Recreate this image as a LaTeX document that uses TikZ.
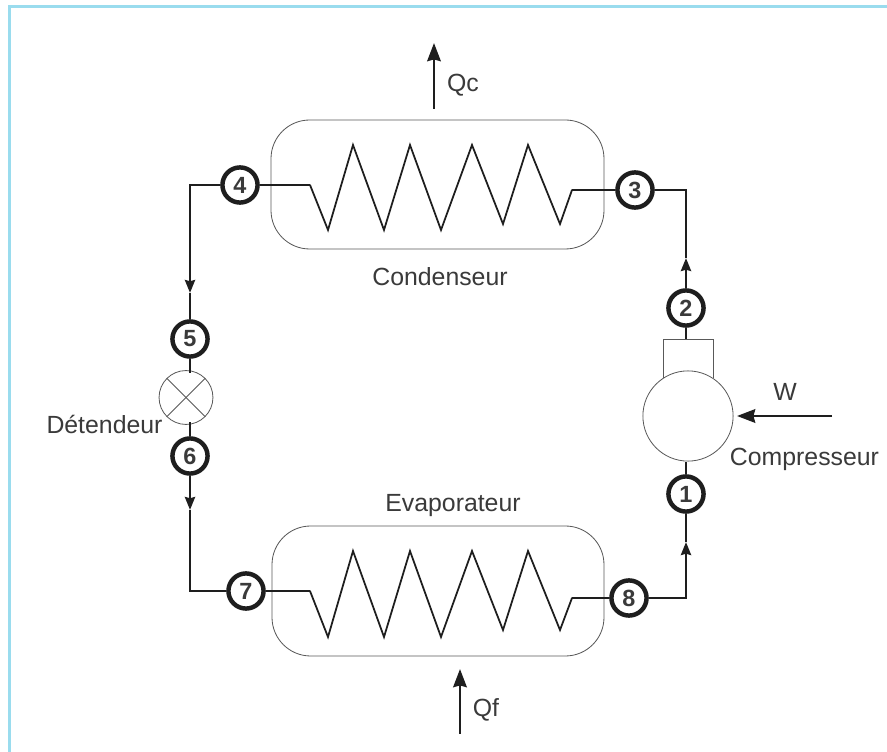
\documentclass[tikz,border=0pt]{standalone}
\usepackage{tkz-euclide}
\usepackage{fontspec}
\setmainfont{Liberation Sans}
\usetikzlibrary{arrows.meta}
\definecolor{framecol}{HTML}{9ADCEE}
\definecolor{textcol}{HTML}{3A3A3A}
\definecolor{pipecol}{HTML}{1E1E1E}
\tikzset{
    pipe/.style = {line width=2.4pt, draw=pipecol},
    coil/.style = {line width=1.5pt, draw=pipecol, line join=miter},
    vessel/.style = {line width=0.7pt, draw=black!65, rounded corners=33pt},
    thinpart/.style = {line width=0.7pt, draw=black!65},
    heat/.style = {line width=2.4pt, draw=pipecol, -{Stealth[length=15.5pt,width=11.5pt,inset=1.5pt]}},
    flow/.style = {pipe, -{Stealth[length=11pt,width=8.5pt,inset=1pt]}},
    state/.style = {circle, draw=pipecol, fill=white, line width=3.8pt, minimum size=30pt, inner sep=0pt, text=textcol, font=\fontsize{20}{20}\selectfont\bfseries},
    lbl/.style = {text=textcol, inner sep=0pt, anchor=base, font=\fontsize{21.2}{22}\selectfont}
}
\begin{document}
\begin{tikzpicture}[x=0.03cm, y=0.03cm]
    \useasboundingbox (0,0) rectangle (887,752);
    % frame
    \fill[framecol] (8,0) rectangle (11,747);
    \fill[framecol] (8,744) rectangle (887,747);
    % vessels
    \draw[vessel] (271,503) rectangle (604,632);
    \draw[vessel] (272,96) rectangle (604,226);
    % coils
    \tkzDefPoints{310/567/Ca, 328/522/Cb, 353/607/Cc, 384/522/Cd, 410/607/Ce, 441/522/Cf, 472/607/Cg, 503/528/Ch, 528/607/Ci, 560/528/Cj, 572/562/Ck}
    \tkzDefPoints{310/161/Ea, 328/115/Eb, 353/201/Ec, 384/115/Ed, 410/201/Ee, 441/115/Ef, 472/201/Eg, 503/122/Eh, 528/201/Ei, 560/122/Ej, 572/154/Ek}
    \tkzDrawPolySeg[coil](Ca,Cb,Cc,Cd,Ce,Cf,Cg,Ch,Ci,Cj,Ck)
    \tkzDrawPolySeg[coil](Ea,Eb,Ec,Ed,Ee,Ef,Eg,Eh,Ei,Ej,Ek)
    % states
    \node[state] (n1) at (686,258) {1};
    \node[state] (n2) at (686,444) {2};
    \node[state] (n3) at (635,562) {3};
    \node[state] (n4) at (240,567) {4};
    \node[state] (n5) at (190,413) {5};
    \node[state] (n6) at (190,296) {6};
    \node[state] (n7) at (246,161) {7};
    \node[state] (n8) at (629,154) {8};
    % compressor and valve
    \node[circle, thinpart, minimum size=77pt, inner sep=0pt] (comp) at (688,336) {};
    \node[circle, thinpart, minimum size=46pt, inner sep=0pt] (valve) at (186,354.5) {};
    \draw[thinpart] (valve.north west) -- (valve.south east);
    \draw[thinpart] (valve.north east) -- (valve.south west);
    \coordinate (boxtop) at (686,413);
    \draw[thinpart] (663,374) |- (713,413) -- (713,374);
    % pipes
    \coordinate (a45) at (190,459);
    \coordinate (a67) at (190,242);
    \coordinate (a81) at (686,210);
    \coordinate (a23) at (686,494);
    \draw[flow] (n4) -| (a45);
    \draw[pipe] (a45) -- (n5);
    \draw[flow] (n6) -- (a67);
    \draw[pipe] (a67) |- (n7);
    \draw[flow] (n8) -| (a81);
    \draw[pipe] (a81) -- (n1);
    \draw[flow] (n2) -- (a23);
    \draw[pipe] (a23) |- (n3);
    \draw[pipe] (n2) -- (boxtop);
    \draw[pipe] (n1) -- (n1 |- comp.south);
    \draw[pipe] (n5) -- (190,379);
    \draw[pipe] (n6) -- (190,330);
    \draw[pipe] (n4) -- (Ca);
    \draw[pipe] (n3) -- (Ck);
    \draw[pipe] (n7) -- (Ea);
    \draw[pipe] (n8) -- (Ek);
    % heat and work
    \coordinate (qca) at (434,643);
    \coordinate (qcb) at (434,709);
    \coordinate (qfa) at (460,18);
    \coordinate (qfb) at (460,83);
    \coordinate (wa) at (832,336);
    \coordinate (wb) at (737,336);
    \draw[heat] (qca) -- (qcb);
    \draw[heat] (qfa) -- (qfb);
    \draw[heat] (wa) -- (wb);
    % labels
    \node[lbl] (qc) at (463,660) {Qc};
    \node[lbl] (qf) at (486,35) {Qf};
    \node[lbl] (wl) at (785,351) {W};
    \node[lbl] (cond) at (440,466) {Condenseur};
    \node[lbl] (evap) at (453,240) {Evaporateur};
    \node[lbl] (det) at (104.5,318) {Détendeur};
    \node[lbl] (compl) at (804.5,286) {Compresseur};
\end{tikzpicture}
\end{document}
